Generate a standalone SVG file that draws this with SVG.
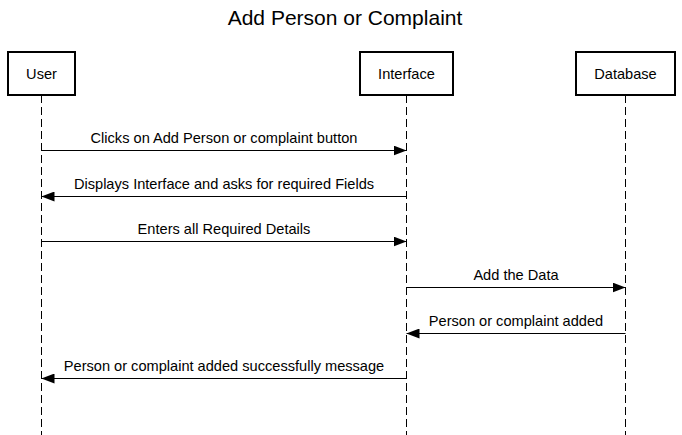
<svg xmlns="http://www.w3.org/2000/svg" width="682" height="435" viewBox="0 0 682 435">
<style>
.box{fill:#fff;stroke:#000;stroke-width:2}
.life{stroke:#000;stroke-width:1;stroke-dasharray:8 4;fill:none}
.msg{stroke:#000;stroke-width:1;fill:none}
text{font-family:"Liberation Sans",Arial,sans-serif;fill:#000;text-anchor:middle}
.lbl{font-size:14.6px}
.title{font-size:21px}
</style>
<defs>
<marker id="ah" viewBox="0 0 13 10" refX="13" refY="5" markerWidth="13" markerHeight="10" markerUnits="userSpaceOnUse" orient="auto">
<path d="M0,0 L13,5 L0,10 Z" fill="#000"/>
</marker>
</defs>
<rect width="682" height="435" fill="#fff"/>
<text class="title" x="345" y="25">Add Person or Complaint</text>
<g id="user">
<line class="life" x1="41.5" y1="95" x2="41.5" y2="435"/>
<rect class="box" x="8" y="52" width="67" height="43"/>
<text class="lbl" x="41.5" y="79">User</text>
</g>
<g id="interface">
<line class="life" x1="406.5" y1="95" x2="406.5" y2="435"/>
<rect class="box" x="360" y="52" width="93" height="43"/>
<text class="lbl" x="406.5" y="79">Interface</text>
</g>
<g id="database">
<line class="life" x1="625.5" y1="95" x2="625.5" y2="435"/>
<rect class="box" x="576" y="52" width="99" height="43"/>
<text class="lbl" x="625.5" y="79">Database</text>
</g>
<g id="connectors">
<line class="msg" x1="41.5" y1="150.5" x2="406.5" y2="150.5" marker-end="url(#ah)"/>
<text class="lbl" x="224" y="143">Clicks on Add Person or complaint button</text>
<line class="msg" x1="406.5" y1="196.5" x2="41.5" y2="196.5" marker-end="url(#ah)"/>
<text class="lbl" x="224" y="189">Displays Interface and asks for required Fields</text>
<line class="msg" x1="41.5" y1="241.5" x2="406.5" y2="241.5" marker-end="url(#ah)"/>
<text class="lbl" x="224" y="234">Enters all Required Details</text>
<line class="msg" x1="406.5" y1="287.5" x2="625.5" y2="287.5" marker-end="url(#ah)"/>
<text class="lbl" x="516" y="280">Add the Data</text>
<line class="msg" x1="625.5" y1="333.5" x2="406.5" y2="333.5" marker-end="url(#ah)"/>
<text class="lbl" x="516" y="326">Person or complaint added</text>
<line class="msg" x1="406.5" y1="378.5" x2="41.5" y2="378.5" marker-end="url(#ah)"/>
<text class="lbl" x="224" y="371">Person or complaint added successfully message</text>
</g>
</svg>
